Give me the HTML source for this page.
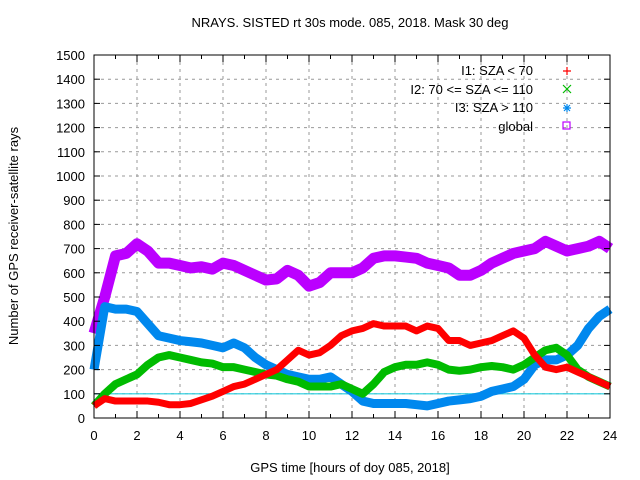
<!DOCTYPE html>
<html><head><meta charset="utf-8"><style>
body{margin:0;background:#fff;}
svg{display:block;font-family:"Liberation Sans",sans-serif;}
</style></head><body>
<svg id="c" width="640" height="480">
<text x="350" y="27" font-size="13" text-anchor="middle">NRAYS. SISTED rt 30s mode. 085, 2018. Mask 30 deg</text>
<text transform="translate(18,236) rotate(-90)" font-size="13" text-anchor="middle">Number of GPS receiver-satellite rays</text>
<text x="350" y="472" font-size="13" text-anchor="middle">GPS time [hours of doy 085, 2018]</text>
<g id="grid"></g><g id="series"></g><g id="axes"></g>
<g id="legend" font-size="13" text-anchor="end">
<text x="533" y="75">I1: SZA &lt; 70</text>
<text x="533" y="94">I2: 70 &lt;= SZA &lt;= 110</text>
<text x="533" y="112">I3: SZA &gt; 110</text>
<text x="533" y="131">global</text>
<path d="M563,71h8M567,67v8" stroke="#f00" stroke-width="1.2"/>
<path d="M563,85l8,8M571,85l-8,8" stroke="#0b0" stroke-width="1.2"/>
<path d="M563,108h8M567,104v8M564,105l6,6M570,105l-6,6" stroke="#08e" stroke-width="1.2"/>
<rect x="563" y="122" width="7" height="7" fill="none" stroke="#b0f" stroke-width="1.2"/>
</g>
</svg>
<script>
const hours=[0,0.5,1,1.5,2,2.5,3,3.5,4,4.5,5,5.5,6,6.5,7,7.5,8,8.5,9,9.5,10,10.5,11,11.5,12,12.5,13,13.5,14,14.5,15,15.5,16,16.5,17,17.5,18,18.5,19,19.5,20,20.5,21,21.5,22,22.5,23,23.5,24];
const i1=[50,80,70,70,70,70,65,55,55,60,75,90,110,130,140,160,180,200,240,280,260,270,300,340,360,370,390,380,380,380,360,380,370,320,320,300,310,320,340,360,330,260,210,200,210,190,170,150,130];
const i2=[50,100,140,160,180,220,250,260,250,240,230,225,210,210,200,190,180,175,160,150,130,130,130,140,120,100,140,190,210,220,220,230,220,200,195,200,210,215,210,200,220,250,280,290,260,200,170,150,130];
const i3=[200,460,450,450,440,390,340,330,320,315,310,300,290,310,290,250,220,200,180,170,160,160,170,140,110,70,60,60,60,60,55,50,60,70,75,80,90,110,120,130,160,220,240,240,260,300,370,420,450];
const globalRays=[350,500,670,680,720,690,640,640,630,620,625,615,640,630,610,590,570,575,610,590,545,560,600,600,600,620,660,670,670,665,660,640,630,620,590,590,610,640,660,680,690,700,730,710,690,700,710,730,700];
const yTicks=[0,100,200,300,400,500,600,700,800,900,1000,1100,1200,1300,1400,1500];
const xTicks=[0,2,4,6,8,10,12,14,16,18,20,22,24];
const L=94,R=610,T=55,B=418;
const X=h=>L+(R-L)*h/24, Y=v=>B-(B-T)*v/1500;
const NS="http://www.w3.org/2000/svg";
function mk(p,t,a){const e=document.createElementNS(NS,t);for(const k in a)e.setAttribute(k,a[k]);p.appendChild(e);return e;}
const grid=document.getElementById('grid'),axes=document.getElementById('axes'),ser=document.getElementById('series');
yTicks.forEach(v=>{
 if(v>0&&v<1500){const g=mk(grid,'line',{x1:L,x2:R,y1:Y(v),y2:Y(v),stroke:'#999','stroke-dasharray':'3,4'});}
 mk(axes,'line',{x1:L,x2:L+6,y1:Y(v),y2:Y(v),stroke:'#000'});mk(axes,'line',{x1:R-6,x2:R,y1:Y(v),y2:Y(v),stroke:'#000'});
 const t=mk(axes,'text',{x:L-9,y:Y(v)+5,'font-size':13,'text-anchor':'end'});t.textContent=v;
 
});
for(let h=1;h<24;h+=2){mk(axes,'line',{x1:X(h),x2:X(h),y1:B,y2:B-4,stroke:'#000'});mk(axes,'line',{x1:X(h),x2:X(h),y1:T,y2:T+4,stroke:'#000'});}
xTicks.forEach(h=>{
 if(h>0&&h<24){const g=mk(grid,'line',{x1:X(h),x2:X(h),y1:T,y2:B,stroke:'#999','stroke-dasharray':'3,4'});}
 mk(axes,'line',{x1:X(h),x2:X(h),y1:B,y2:B-7,stroke:'#000'});mk(axes,'line',{x1:X(h),x2:X(h),y1:T,y2:T+7,stroke:'#000'});
 const t=mk(axes,'text',{x:X(h),y:B+22,'font-size':13,'text-anchor':'middle'});t.textContent=h;
 
});
const ref=mk(grid,'line',{x1:L,x2:R,y1:Y(100),y2:Y(100),stroke:'#2cd','stroke-width':1.2});

mk(axes,'rect',{x:L,y:T,width:R-L,height:B-T,fill:'none',stroke:'#000','stroke-width':1});
function series(vals,col,name,w){
 const pts=vals.map((v,i)=>X(hours[i])+','+Y(v)).join(' ');
 const p=mk(ser,'polyline',{points:pts,fill:'none',stroke:col,'stroke-width':w,'stroke-linejoin':'round','stroke-linecap':'butt'});
 
 
}
series(globalRays,'#b0f','series-global',11);
series(i3,'#08e','series-i3',9);
series(i2,'#0b0','series-i2',8);
series(i1,'#f00','series-i1',7);
</script>
</body></html>
